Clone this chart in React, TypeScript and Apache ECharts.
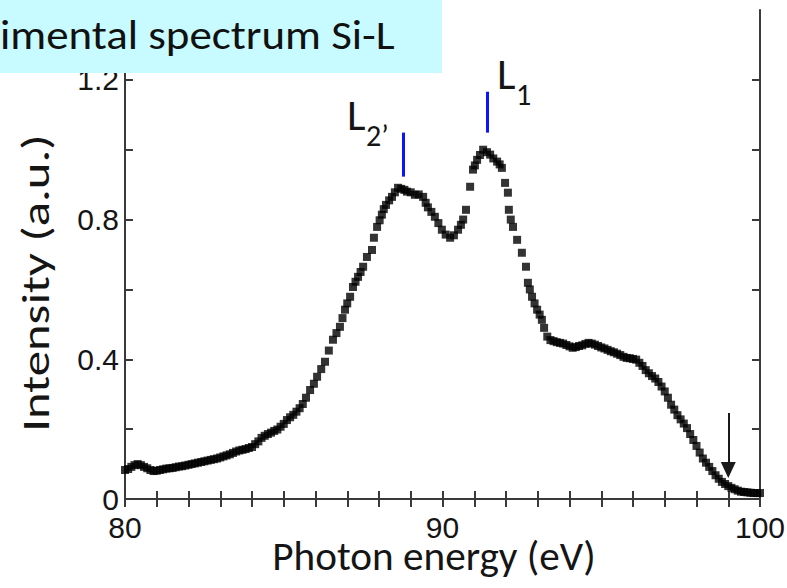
import React, { useEffect, useRef } from "react";
import * as echarts from "echarts";

const energy = [
  80.0, 80.1, 80.2, 80.3, 80.4, 80.5, 80.6, 80.7, 80.8, 80.9, 81.0, 81.1, 81.2, 81.3, 81.4, 81.5, 81.6, 81.7,
  81.8, 81.9, 82.0, 82.1, 82.2, 82.3, 82.4, 82.5, 82.6, 82.7, 82.8, 82.9, 83.0, 83.1, 83.2, 83.3, 83.4, 83.5,
  83.6, 83.7, 83.8, 83.9, 84.0, 84.1, 84.2, 84.3, 84.4, 84.5, 84.6, 84.7, 84.8, 84.9, 85.0, 85.1, 85.2, 85.3,
  85.4, 85.5, 85.6, 85.7, 85.83, 85.95, 86.05, 86.18, 86.3, 86.42, 86.55, 86.66, 86.77, 86.85, 86.93, 87.0,
  87.09, 87.18, 87.26, 87.34, 87.42, 87.5, 87.62, 87.78, 87.84, 87.94, 88.02, 88.09, 88.15, 88.22, 88.32,
  88.41, 88.5, 88.6, 88.7, 88.8, 88.88, 89.0, 89.13, 89.25, 89.39, 89.47, 89.54, 89.65, 89.76, 89.87, 89.98,
  90.1, 90.24, 90.36, 90.49, 90.58, 90.65, 90.74, 90.87, 90.96, 91.02, 91.09, 91.18, 91.28, 91.4, 91.5,
  91.6, 91.72, 91.8, 91.87, 91.97, 92.06, 92.09, 92.15, 92.22, 92.35, 92.5, 92.63, 92.69, 92.75, 92.82,
  92.9, 92.98, 93.06, 93.13, 93.2, 93.3, 93.4, 93.5, 93.6, 93.7, 93.8, 93.9, 94.0, 94.1, 94.2, 94.3, 94.4,
  94.5, 94.6, 94.7, 94.8, 94.9, 95.0, 95.1, 95.2, 95.3, 95.4, 95.5, 95.6, 95.7, 95.8, 95.9, 96.0, 96.1,
  96.2, 96.3, 96.4, 96.5, 96.6, 96.7, 96.8, 96.9, 97.0, 97.1, 97.2, 97.3, 97.4, 97.5, 97.6, 97.7, 97.8,
  97.9, 98.0, 98.1, 98.2, 98.3, 98.4, 98.5, 98.6, 98.7, 98.8, 98.9, 99.0, 99.1, 99.2, 99.3, 99.4, 99.5,
  99.6, 99.7, 99.8, 99.9, 100.0,
];

const intensity = [
  0.083, 0.086, 0.092, 0.097, 0.1, 0.097, 0.092, 0.088, 0.083, 0.08, 0.081, 0.083, 0.085, 0.087, 0.088, 0.089,
  0.091, 0.093, 0.094, 0.096, 0.098, 0.1, 0.102, 0.104, 0.106, 0.108, 0.11, 0.112, 0.114, 0.116, 0.119, 0.122,
  0.125, 0.128, 0.132, 0.136, 0.139, 0.141, 0.143, 0.146, 0.149, 0.157, 0.165, 0.175, 0.181, 0.186, 0.19,
  0.195, 0.199, 0.207, 0.215, 0.226, 0.234, 0.241, 0.25, 0.26, 0.272, 0.29, 0.312, 0.33, 0.35, 0.372, 0.393,
  0.425, 0.456, 0.475, 0.493, 0.518, 0.542, 0.56, 0.579, 0.607, 0.622, 0.636, 0.65, 0.665, 0.693, 0.713,
  0.748, 0.779, 0.798, 0.814, 0.83, 0.842, 0.855, 0.865, 0.878, 0.891, 0.888, 0.885, 0.88, 0.878, 0.871,
  0.872, 0.865, 0.848, 0.835, 0.822, 0.808, 0.79, 0.771, 0.757, 0.748, 0.755, 0.771, 0.785, 0.8, 0.828,
  0.894, 0.943, 0.955, 0.971, 0.985, 1.0, 0.993, 0.986, 0.975, 0.966, 0.958, 0.948, 0.905, 0.877, 0.828,
  0.8, 0.779, 0.742, 0.705, 0.665, 0.619, 0.6, 0.579, 0.56, 0.542, 0.528, 0.513, 0.49, 0.465, 0.455, 0.452,
  0.449, 0.447, 0.445, 0.441, 0.437, 0.433, 0.435, 0.438, 0.44, 0.444, 0.447, 0.445, 0.442, 0.438, 0.434,
  0.431, 0.427, 0.423, 0.42, 0.416, 0.412, 0.407, 0.404, 0.403, 0.401, 0.399, 0.39, 0.381, 0.369, 0.36,
  0.352, 0.345, 0.335, 0.322, 0.308, 0.29, 0.27, 0.256, 0.24, 0.228, 0.216, 0.203, 0.186, 0.169, 0.152,
  0.133, 0.116, 0.104, 0.092, 0.08, 0.068, 0.058, 0.049, 0.043, 0.037, 0.032, 0.028, 0.024, 0.021, 0.02,
  0.019, 0.018, 0.017, 0.017, 0.017,
];

const xTicks = [80, 81, 82, 83, 84, 85, 86, 87, 88, 89, 90, 91, 92, 93, 94, 95, 96, 97, 98, 99, 100];
const xLabels = [80, 90, 100];
const yTicks = [0, 0.2, 0.4, 0.6, 0.8, 1.0, 1.2];
const yLabels = [0, 0.4, 0.8, 1.2];

// annotation positions (data coords)
const l2Bar = { x: 88.76, y0: 0.923, y1: 1.049 };
const l1Bar = { x: 91.4, y0: 1.049, y1: 1.166 };
const arrowMark = { x: 99.0, yTop: 0.246, yTip: 0.083 };

const TITLE_FONT = "Carlito, Lato, 'Open Sans', sans-serif";
const TICK_FONT = "'Liberation Sans', Arial, sans-serif";
const AXIS_COLOR = "#3a3a3a";
const TEXT_COLOR = "#151515";

export default function App() {
  const ref = useRef<HTMLDivElement>(null);

  useEffect(() => {
    if (!ref.current) return;
    const chart = echarts.init(ref.current, undefined, { renderer: "svg" });
    const data = energy.map((e, i) => [e, intensity[i]]);

    const axisLineStyle = { show: true, lineStyle: { color: AXIS_COLOR, width: 2 } };
    const tickStyle = { inside: true, length: 8, lineStyle: { color: AXIS_COLOR, width: 2 } };

    chart.setOption({
      animation: false,
      backgroundColor: "#ffffff",
      grid: { left: 125, right: 27, top: 10, bottom: 82, outerBoundsMode: "none", containLabel: false },
      xAxis: [
        {
          type: "value",
          min: 80,
          max: 100,
          position: "bottom",
          axisLine: axisLineStyle,
          axisTick: { ...tickStyle, customValues: xTicks },
          axisLabel: {
            customValues: xLabels,
            margin: 9,
            fontFamily: TICK_FONT,
            fontSize: 30,
            lineHeight: 24,
            color: TEXT_COLOR,
          },
          splitLine: { show: false },
        },
        {
          type: "value",
          min: 80,
          max: 100,
          position: "top",
          axisLine: axisLineStyle,
          axisTick: { ...tickStyle, customValues: xTicks },
          axisLabel: { show: false },
          splitLine: { show: false },
        },
      ],
      yAxis: [
        {
          type: "value",
          min: -0.02,
          max: 1.4,
          position: "left",
          axisLine: axisLineStyle,
          axisTick: { ...tickStyle, customValues: yTicks },
          axisLabel: {
            customValues: yLabels,
            margin: 6,
            fontFamily: TICK_FONT,
            fontSize: 30,
            lineHeight: 24,
            color: TEXT_COLOR,
            formatter: (v: number) => (v === 0 ? "0" : v.toFixed(1)),
          },
          splitLine: { show: false },
        },
        {
          type: "value",
          min: -0.02,
          max: 1.4,
          position: "right",
          axisLine: axisLineStyle,
          axisTick: { ...tickStyle, customValues: yTicks },
          axisLabel: { show: false },
          splitLine: { show: false },
        },
      ],
      series: [
        {
          type: "scatter",
          xAxisIndex: 0,
          yAxisIndex: 0,
          data,
          symbol: "rect",
          symbolSize: 8,
          itemStyle: { color: "#000000" },
          markLine: {
            silent: true,
            animation: false,
            label: { show: false },
            symbol: ["none", "none"],
            data: [
              [
                { coord: [l2Bar.x, l2Bar.y0], lineStyle: { color: "#0a14ff", width: 3, type: "solid" } },
                { coord: [l2Bar.x, l2Bar.y1] },
              ],
              [
                { coord: [l1Bar.x, l1Bar.y0], lineStyle: { color: "#0a14ff", width: 3, type: "solid" } },
                { coord: [l1Bar.x, l1Bar.y1] },
              ],
              [
                {
                  coord: [arrowMark.x, arrowMark.yTop],
                  symbol: "none",
                  lineStyle: { color: "#1a1a1a", width: 2, type: "solid" },
                },
                { coord: [arrowMark.x, arrowMark.yTip], symbol: "triangle", symbolSize: [15, 16] },
              ],
            ],
          },
        },
      ],
      graphic: [
        {
          type: "text",
          x: 36,
          y: 283,
          rotation: Math.PI / 2,
          scaleX: 1.3,
          style: {
            text: "Intensity (a.u.)",
            fontFamily: TITLE_FONT,
            fontSize: 39,
            fill: TEXT_COLOR,
            align: "center",
            verticalAlign: "middle",
          },
        },
        {
          type: "text",
          x: 434,
          y: 556,
          scaleX: 1.03,
          style: {
            text: "Photon energy (eV)",
            fontFamily: TITLE_FONT,
            fontSize: 40,
            fill: TEXT_COLOR,
            align: "center",
            verticalAlign: "middle",
          },
        },
        {
          type: "text",
          x: 347,
          y: 137,
          style: { text: "L", fontFamily: TITLE_FONT, fontSize: 44, fill: TEXT_COLOR, verticalAlign: "bottom" },
        },
        {
          type: "text",
          x: 366,
          y: 150,
          style: { text: "2’", fontFamily: TITLE_FONT, fontSize: 30, fill: TEXT_COLOR, verticalAlign: "bottom" },
        },
        {
          type: "text",
          x: 497,
          y: 96,
          style: { text: "L", fontFamily: TITLE_FONT, fontSize: 44, fill: TEXT_COLOR, verticalAlign: "bottom" },
        },
        {
          type: "text",
          x: 516,
          y: 109,
          style: { text: "1", fontFamily: TITLE_FONT, fontSize: 30, fill: TEXT_COLOR, verticalAlign: "bottom" },
        },
        {
          type: "rect",
          z: 100,
          shape: { x: 0, y: 0, width: 442, height: 73 },
          style: { fill: "#c8fbff" },
        },
        {
          type: "text",
          z: 101,
          x: 0,
          y: 35,
          scaleX: 1.07,
          style: {
            text: "imental spectrum Si-L",
            fontFamily: TITLE_FONT,
            fontSize: 42,
            fill: "#111111",
            verticalAlign: "middle",
          },
        },
      ],
    });

    return () => chart.dispose();
  }, []);

  return <div ref={ref} style={{ width: 787, height: 588, position: "absolute", left: 0, top: 0 }} />;
}
